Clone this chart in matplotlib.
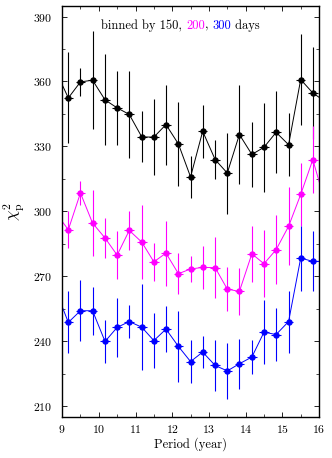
import matplotlib
matplotlib.use('Agg')
import matplotlib.pyplot as plt
from matplotlib.ticker import MultipleLocator
from matplotlib.offsetbox import TextArea, HPacker, AnchoredOffsetbox

plt.rcParams['font.family'] = 'serif'
plt.rcParams['font.serif'] = ['cmr10']
plt.rcParams['mathtext.fontset'] = 'cm'
plt.rcParams['axes.formatter.use_mathtext'] = True

# period bins (years), including the ones just outside the plotted range
period = [8.83, 9.17, 9.50, 9.83, 10.17, 10.50, 10.83, 11.17, 11.50, 11.83,
          12.17, 12.50, 12.83, 13.17, 13.50, 13.83, 14.17, 14.50, 14.83,
          15.17, 15.50, 15.83, 16.17]
period_err = 0.13

# binned by 150 days
chi_150 = [364.8, 352.4, 359.8, 360.6, 351.5, 347.8, 344.8, 334.4, 334.3, 340.1,
           331.1, 315.9, 337.0, 323.9, 317.7, 335.5, 326.3, 329.6, 336.5,
           330.8, 360.9, 354.7, 350.7]
err_150 = [20.0, 21.0, 6.5, 22.7, 21.0, 17.2, 20.2, 11.8, 17.5, 18.5,
           19.2, 9.6, 12.3, 8.9, 18.7, 23.0, 15.0, 20.5, 19.0,
           14.5, 21.0, 21.3, 20.0]

# binned by 200 days
chi_200 = [299.3, 291.5, 308.5, 294.6, 287.7, 279.8, 291.2, 285.8, 276.7, 280.7,
           271.2, 273.4, 274.1, 274.0, 264.1, 263.0, 280.4, 275.8, 282.3,
           293.1, 307.8, 323.9, 303.9]
err_200 = [10.0, 8.5, 5.4, 15.4, 9.4, 11.2, 9.2, 17.2, 8.9, 15.0,
           9.5, 6.2, 10.0, 14.2, 10.0, 11.0, 12.8, 15.5, 16.0,
           18.0, 14.6, 15.5, 15.0]

# binned by 300 days
chi_300 = [263.5, 248.7, 254.1, 254.1, 239.9, 246.4, 249.1, 246.5, 240.3, 245.6,
           237.6, 230.6, 235.0, 228.8, 226.3, 229.6, 232.7, 244.2, 243.1,
           249.1, 278.4, 276.9, 276.9]
err_300 = [12.0, 14.3, 14.1, 11.0, 10.0, 13.7, 7.5, 20.0, 12.7, 10.5,
           16.5, 10.0, 7.3, 11.6, 13.1, 11.6, 8.0, 14.8, 12.1,
           14.3, 15.0, 13.9, 14.0]

series = [(chi_150, err_150, 'black'),
          (chi_200, err_200, '#ff00ff'),
          (chi_300, err_300, '#0000ff')]

fig = plt.figure(figsize=(3.32, 4.58), dpi=100)
ax = fig.add_axes([0.187, 0.0895, 0.774, 0.898])

for vals, errs, col in series:
    ax.errorbar(period, vals, yerr=errs, xerr=period_err, fmt='o-', color=col,
                ms=3.6, lw=0.7, elinewidth=0.8, ecolor=col, capsize=0)

ax.set_xlim(9, 16)
ax.set_ylim(205, 395)
ax.xaxis.set_major_locator(MultipleLocator(1))
ax.xaxis.set_minor_locator(MultipleLocator(0.5))
ax.yaxis.set_major_locator(MultipleLocator(30))
ax.yaxis.set_minor_locator(MultipleLocator(15))
ax.tick_params(which='both', direction='in', top=True, right=True, labelsize=8.5)
ax.tick_params(which='major', length=3.5, width=0.6)
ax.tick_params(which='minor', length=2, width=0.5)
ax.tick_params(axis='y', pad=7)
ax.tick_params(axis='x', pad=4)
for sp in ax.spines.values():
    sp.set_linewidth(1.0)

ax.set_xlabel('Period (year)', fontsize=9, labelpad=2)
ax.set_ylabel(r'$\chi^2_{\rm p}$', fontsize=12, labelpad=5)

# title made of coloured pieces
parts = [('binned by 150, ', 'black'), ('200', '#ff00ff'), (', ', 'black'),
         ('300', '#0000ff'), (' days', 'black')]
boxes = [TextArea(t, textprops=dict(color=c, fontsize=9)) for t, c in parts]
pack = HPacker(children=boxes, align='baseline', pad=0, sep=0)
anchored = AnchoredOffsetbox(loc='upper center', child=pack, pad=0, frameon=False,
                             bbox_to_anchor=(0.461, 0.968),
                             bbox_transform=ax.transAxes, borderpad=0)
ax.add_artist(anchored)

fig.savefig('out.png', dpi=100)
